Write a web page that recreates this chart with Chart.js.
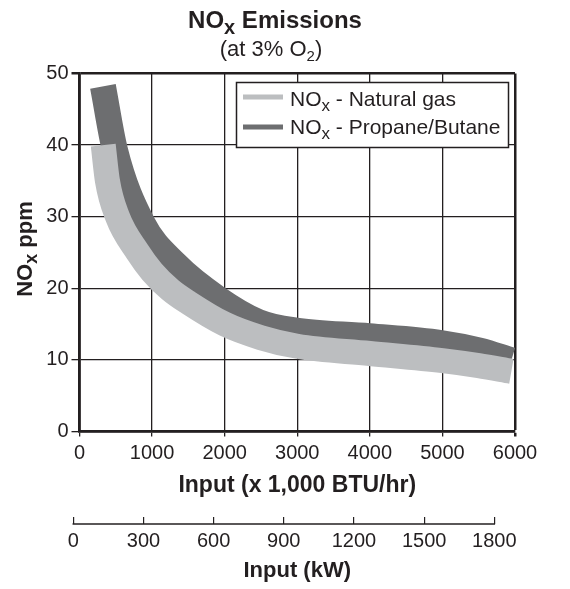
<!DOCTYPE html>
<html>
<head>
<meta charset="utf-8">
<script src="https://cdn.jsdelivr.net/npm/chart.js@4"></script>
<style>
  html, body { margin: 0; padding: 0; background: #fff; }
  #wrap { width: 570px; height: 589px; }
</style>
</head>
<body>
<div id="wrap"><canvas id="chart"></canvas></div>
<script>
// band centre lines (x = 1,000 BTU/hr, y = ppm)
const gasX = [327, 385, 523, 798, 1000, 1250, 1500, 2000, 2500, 3000, 4000, 5000, 5500, 5950];
const gasY = [40, 35, 30, 25.1, 22.3, 19.8, 18.0, 15.0, 13.1, 11.9, 10.9, 9.9, 9.2, 8.4];
const propX = [323, 486, 867, 1330, 1901, 2465, 2981, 3992, 4979, 5513, 5949];
const propY = [48.2, 39.4, 29.1, 23.3, 18.6, 15.3, 14.1, 13.3, 12.35, 11.3, 9.95];

const btuTicks = [0, 1000, 2000, 3000, 4000, 5000, 6000];
const ppmTicks = [0, 10, 20, 30, 40, 50];
const kwTicks = [0, 300, 600, 900, 1200, 1500, 1800];

const ink = '#231f20';
const lightGray = '#bcbec0';
const darkGray = '#6d6e70';
const FAMILY = '"Liberation Sans", Arial, Helvetica, sans-serif';

const pts = (xs, ys) => xs.map((x, i) => ({ x: x, y: ys[i] }));
const plain = v => String(v);

// text with subscripts: parts = [[text, size, bold, dy], ...]
function richText(ctx, parts, x, y, align) {
  let w = 0;
  parts.forEach(p => {
    ctx.font = (p[2] ? 'bold ' : '') + p[1] + 'px ' + FAMILY;
    w += ctx.measureText(p[0]).width;
  });
  let cx = align === 'center' ? x - w / 2 : x;
  parts.forEach(p => {
    ctx.font = (p[2] ? 'bold ' : '') + p[1] + 'px ' + FAMILY;
    ctx.fillText(p[0], cx, y + (p[3] || 0));
    cx += ctx.measureText(p[0]).width;
  });
}

const decorations = {
  id: 'decorations',
  afterDraw(chart) {
    const ctx = chart.ctx;
    ctx.save();
    ctx.fillStyle = ink;
    ctx.textBaseline = 'alphabetic';

    // title + subtitle
    richText(ctx, [['NO', 24, true], ['x', 20, true, 6], [' Emissions', 24, true]], 275, 28, 'center');
    richText(ctx, [['(at 3% O', 22, false], ['2', 15, false, 5], [')', 22, false]], 271, 56, 'center');

    // y axis title
    ctx.save();
    ctx.translate(0, 249);
    ctx.rotate(-Math.PI / 2);
    richText(ctx, [['NO', 22, true], ['x', 18, true, 5], [' ppm', 22, true]], 0, 31.5, 'center');
    ctx.restore();

    // kW axis line, only between its end ticks
    const k = chart.scales.x2;
    const ly = k.top + 7;
    ctx.strokeStyle = ink;
    ctx.lineWidth = 1.5;
    ctx.beginPath();
    ctx.moveTo(k.getPixelForValue(kwTicks[0]) - 0.75, ly);
    ctx.lineTo(k.getPixelForValue(kwTicks[kwTicks.length - 1]) + 0.75, ly);
    ctx.stroke();

    // legend
    const bx = 236.5, by = 82.5, bw = 272, bh = 65;
    ctx.fillStyle = '#fff';
    ctx.fillRect(bx, by, bw, bh);
    ctx.lineWidth = 1.5;
    ctx.strokeRect(bx, by, bw, bh);
    const rows = [
      { color: lightGray, label: ' - Natural gas', ly: 97, ty: 105.5 },
      { color: darkGray, label: ' - Propane/Butane', ly: 127, ty: 133.5 }
    ];
    rows.forEach(r => {
      ctx.strokeStyle = r.color;
      ctx.lineWidth = 5;
      ctx.beginPath();
      ctx.moveTo(243, r.ly);
      ctx.lineTo(283, r.ly);
      ctx.stroke();
      ctx.fillStyle = ink;
      richText(ctx, [['NO', 21, false], ['x', 17, false, 5], [r.label, 21, false]], 290, r.ty, 'left');
    });
    ctx.restore();
  }
};

new Chart(document.getElementById('chart'), {
  type: 'line',
  data: {
    datasets: [
      {
        label: 'NOx - Natural gas',
        data: pts(gasX, gasY),
        borderColor: lightGray,
        borderWidth: 25,
        cubicInterpolationMode: 'monotone',
        pointRadius: 0,
        fill: false
      },
      {
        label: 'NOx - Propane/Butane',
        data: pts(propX, propY),
        borderColor: darkGray,
        borderWidth: 26,
        cubicInterpolationMode: 'monotone',
        pointRadius: 0,
        fill: false
      }
    ]
  },
  options: {
    responsive: true,
    maintainAspectRatio: false,
    animation: false,
    layout: { padding: { top: 73.5, right: 55, left: 0, bottom: 0 } },
    plugins: {
      legend: { display: false },
      tooltip: { enabled: false },
      title: { display: false }
    },
    scales: {
      x: {
        type: 'linear',
        position: 'bottom',
        min: 0,
        max: 6000,
        z: 1,
        afterFit: s => { s.height = 85.5; },
        afterBuildTicks: s => { s.ticks = btuTicks.map(v => ({ value: v })); },
        ticks: {
          color: ink,
          padding: 4.5,
          autoSkip: false,
          maxRotation: 0,
          callback: plain,
          font: { family: FAMILY, size: 20 }
        },
        grid: {
          color: ink,
          lineWidth: c => (c.tick && c.tick.value === 6000 ? 2.5 : 1.3),
          tickLength: 5
        },
        border: { color: ink, width: 2.8 },
        title: {
          display: true,
          text: 'Input (x 1,000 BTU/hr)',
          color: ink,
          font: { family: FAMILY, size: 23, weight: 'bold' },
          padding: { top: 0, bottom: 18 }
        }
      },
      x2: {
        type: 'linear',
        position: 'bottom',
        min: 26.5,
        max: 1888.5,
        afterFit: s => { s.height = 72; },
        afterBuildTicks: s => { s.ticks = kwTicks.map(v => ({ value: v })); },
        ticks: {
          color: ink,
          padding: 5,
          autoSkip: false,
          maxRotation: 0,
          callback: plain,
          font: { family: FAMILY, size: 20 }
        },
        grid: {
          drawOnChartArea: false,
          color: ink,
          lineWidth: 1.2,
          tickLength: 7
        },
        border: { display: false },
        title: {
          display: true,
          text: 'Input (kW)',
          color: ink,
          font: { family: FAMILY, size: 22, weight: 'bold' },
          padding: { top: 0, bottom: 5 }
        }
      },
      y: {
        type: 'linear',
        min: 0,
        max: 50,
        z: 1,
        afterFit: s => { s.width = 79.5; },
        afterBuildTicks: s => { s.ticks = ppmTicks.map(v => ({ value: v })); },
        ticks: {
          color: ink,
          padding: 3,
          callback: plain,
          font: { family: FAMILY, size: 20 }
        },
        grid: {
          color: ink,
          lineWidth: c => (c.tick && c.tick.value === 50 ? 2.5 : 1.3),
          tickLength: 8
        },
        border: { color: ink, width: 2.8 }
      }
    }
  },
  plugins: [decorations]
});
</script>
</body>
</html>
